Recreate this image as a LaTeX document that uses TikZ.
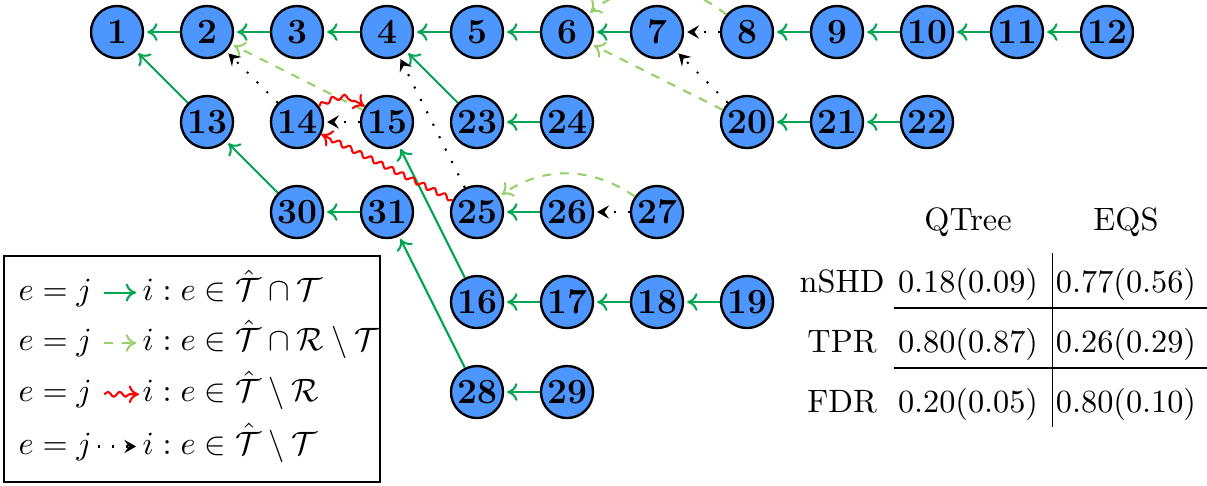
\documentclass[tikz,border=0pt,11pt]{standalone}
\usepackage{amsmath,amssymb}
\usetikzlibrary{arrows.meta,decorations.pathmorphing}

\definecolor{nodeblue}{RGB}{77,150,255}
\definecolor{truegreen}{RGB}{0,166,81}
\definecolor{revgreen}{RGB}{150,208,104}

\tikzset{
  var/.style={circle,draw,thick,fill=nodeblue,minimum size=0.62cm,inner sep=0pt,font=\large\bfseries},
  tp/.style={line width=0.7pt,truegreen,-{To[length=3.5pt,width=6pt]},shorten >=1pt},
  rev/.style={line width=0.7pt,revgreen,dashed,-{To[length=3.5pt,width=6pt]},shorten >=1pt},
  wrong/.style={line width=0.7pt,red,decorate,decoration={snake,amplitude=.8pt,segment length=4pt,post length=2pt},-{To[length=3.5pt,width=6pt]}},
  fp/.style={line width=0.7pt,loosely dotted,-{Stealth[length=4pt,width=4.5pt,inset=1.5pt]},shorten >=1pt},
  key/.style={font=\normalsize,inner sep=1pt},
}

\begin{document}
\begin{tikzpicture}[x=1.072cm,y=1.072cm]
\useasboundingbox (-1.3,0.356) rectangle (12.111,-5.044);

% main chain
\node[var] (n1) at (0,0) {1};
\node[var] (n2) at (1,0) {2};
\node[var] (n3) at (2,0) {3};
\node[var] (n4) at (3,0) {4};
\node[var] (n5) at (4,0) {5};
\node[var] (n6) at (5,0) {6};
\node[var] (n7) at (6,0) {7};
\node[var] (n8) at (7,0) {8};
\node[var] (n9) at (8,0) {9};
\node[var] (n10) at (9,0) {10};
\node[var] (n11) at (10,0) {11};
\node[var] (n12) at (11,0) {12};

% second row
\node[var] (n13) at (1,-1) {13};
\node[var] (n14) at (2,-1) {14};
\node[var] (n15) at (3,-1) {15};
\node[var] (n23) at (4,-1) {23};
\node[var] (n24) at (5,-1) {24};
\node[var] (n20) at (7,-1) {20};
\node[var] (n21) at (8,-1) {21};
\node[var] (n22) at (9,-1) {22};

% third row
\node[var] (n30) at (2,-2) {30};
\node[var] (n31) at (3,-2) {31};
\node[var] (n25) at (4,-2) {25};
\node[var] (n26) at (5,-2) {26};
\node[var] (n27) at (6,-2) {27};

% lower rows
\node[var] (n16) at (4,-3) {16};
\node[var] (n17) at (5,-3) {17};
\node[var] (n18) at (6,-3) {18};
\node[var] (n19) at (7,-3) {19};
\node[var] (n28) at (4,-4) {28};
\node[var] (n29) at (5,-4) {29};

% correct edges
\draw[tp] (n2) -- (n1);
\draw[tp] (n3) -- (n2);
\draw[tp] (n4) -- (n3);
\draw[tp] (n5) -- (n4);
\draw[tp] (n6) -- (n5);
\draw[tp] (n7) -- (n6);
\draw[tp] (n9) -- (n8);
\draw[tp] (n10) -- (n9);
\draw[tp] (n11) -- (n10);
\draw[tp] (n12) -- (n11);
\draw[tp] (n13) -- (n1);
\draw[tp] (n30) -- (n13);
\draw[tp] (n31) -- (n30);
\draw[tp] (n23) -- (n4);
\draw[tp] (n24) -- (n23);
\draw[tp] (n21) -- (n20);
\draw[tp] (n22) -- (n21);
\draw[tp] (n26) -- (n25);
\draw[tp] (n16) -- (n15);
\draw[tp] (n17) -- (n16);
\draw[tp] (n18) -- (n17);
\draw[tp] (n19) -- (n18);
\draw[tp] (n28) -- (n31);
\draw[tp] (n29) -- (n28);

% reversed edges
\draw[rev] (n15) -- (n2);
\draw[rev] (n20) -- (n6);
\draw[rev] (n8) to[bend right=40] (n6);
\draw[rev] (n27) to[bend right=35] (n25);

% wrong edges
\draw[wrong] (n14) to[bend left=35] (n15);
\draw[wrong] (n25) -- (n14);

% extra edges
\draw[fp] (n14) -- (n2);
\draw[fp] (n15) -- (n14);
\draw[fp] (n25) -- (n4);
\draw[fp] (n8) -- (n7);
\draw[fp] (n20) -- (n7);
\draw[fp] (n27) -- (n26);

% legend
\draw[thick] (-1.256,-2.489) rectangle (2.922,-5.0);
\node[key,anchor=base west] (j1) at (-1.133,-2.98) {$e=j$};
\node[key,anchor=base west] (i1) at (0.245,-2.98) {$i:e\in\hat{\mathcal{T}}\cap\mathcal{T}$};
\draw[tp] ([xshift=3pt,yshift=.55ex]j1.base east) -- ([yshift=.55ex]i1.base west);
\node[key,anchor=base west] (j2) at (-1.133,-3.54) {$e=j$};
\node[key,anchor=base west] (i2) at (0.245,-3.54) {$i:e\in\hat{\mathcal{T}}\cap\mathcal{R}\setminus\mathcal{T}$};
\draw[rev] ([xshift=3pt,yshift=.55ex]j2.base east) -- ([yshift=.55ex]i2.base west);
\node[key,anchor=base west] (j3) at (-1.133,-4.11) {$e=j$};
\node[key,anchor=base west] (i3) at (0.245,-4.11) {$i:e\in\hat{\mathcal{T}}\setminus\mathcal{R}$};
\draw[wrong] ([xshift=3pt,yshift=.55ex]j3.base east) -- ([yshift=.55ex]i3.base west);
\node[key,anchor=base west] (j4) at (-1.133,-4.69) {$e=j$};
\node[key,anchor=base west] (i4) at (0.245,-4.69) {$i:e\in\hat{\mathcal{T}}\setminus\mathcal{T}$};
\draw[fp] ([xshift=1pt,yshift=.55ex]j4.base east) -- ([yshift=.55ex]i4.base west);

% scores
\node[anchor=base] (qtree) at (9.456,-2.2) {QTree};
\node[anchor=base] (eqs) at (11.211,-2.2) {EQS};
\node[anchor=base] (nshd) at (8.056,-2.889) {nSHD};
\node[anchor=base] (tpr) at (8.056,-3.556) {TPR};
\node[anchor=base] (fdr) at (8.056,-4.222) {FDR};
\node[anchor=base] (q1) at (9.456,-2.889) {0.18(0.09)};
\node[anchor=base] (q2) at (9.456,-3.556) {0.80(0.87)};
\node[anchor=base] (q3) at (9.456,-4.222) {0.20(0.05)};
\node[anchor=base] (e1) at (11.211,-2.889) {0.77(0.56)};
\node[anchor=base] (e2) at (11.211,-3.556) {0.26(0.29)};
\node[anchor=base] (e3) at (11.211,-4.222) {0.80(0.10)};
\draw (10.397,-2.456) -- (10.397,-4.389);
\draw (8.633,-3.067) -- (12.111,-3.067);
\draw (8.633,-3.733) -- (12.111,-3.733);

\end{tikzpicture}
\end{document}
